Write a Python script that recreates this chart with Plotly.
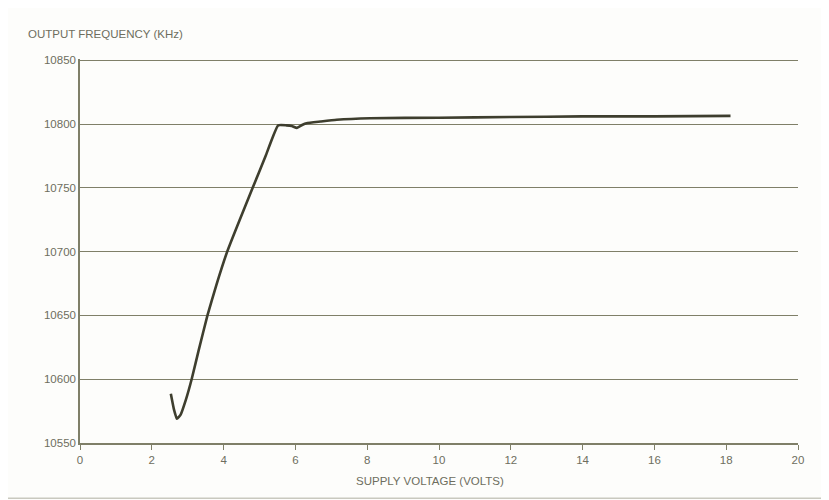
import plotly.graph_objects as go

# -------------------------
# DATA
# -------------------------
voltage = [2.53, 2.62, 2.70, 2.80, 2.95, 3.11, 3.30, 3.55, 3.80, 4.10, 4.45,
           4.81, 5.17, 5.52, 5.75, 5.90, 6.04, 6.20, 6.31, 6.70, 7.15, 8.08,
           10, 12, 14, 16, 18.12]
freq_khz = [10588.7, 10576, 10569, 10572, 10584, 10600, 10622, 10650, 10674,
            10700, 10725, 10750, 10775, 10799, 10799, 10798.5, 10797, 10799.5,
            10800.7, 10802, 10803.4, 10804.6, 10805, 10805.5, 10806, 10806,
            10806.4]

x_ticks = [0, 2, 4, 6, 8, 10, 12, 14, 16, 18, 20]
y_ticks = [10550, 10600, 10650, 10700, 10750, 10800, 10850]

# -------------------------
# STYLE
# -------------------------
text_col = "#6e6e5e"
grid_col = "#7f7f68"
line_col = "#3e3e2e"
font_name = "Liberation Sans, Arial, sans-serif"

fig = go.Figure()

fig.add_trace(go.Scatter(
    x=voltage,
    y=freq_khz,
    mode="lines",
    line=dict(color=line_col, width=2.6, shape="spline", smoothing=0.4),
    showlegend=False,
    hoverinfo="x+y",
))

# the page body adds an 8px offset, so margins are shifted to compensate
fig.update_layout(
    width=829,
    height=500,
    margin=dict(l=72, r=39, t=51, b=65),
    paper_bgcolor="#fdfdfb",
    plot_bgcolor="#fdfdfb",
    font=dict(family=font_name, size=11.5, color=text_col),
)

fig.update_xaxes(
    range=[0, 20],
    tickvals=x_ticks,
    ticks="outside",
    ticklen=5,
    tickwidth=1.2,
    tickcolor=grid_col,
    showgrid=False,
    zeroline=False,
    showline=True,
    linecolor=grid_col,
    linewidth=1.5,
    tickfont=dict(size=11.5, color=text_col),
)

fig.update_yaxes(
    range=[10550, 10851],
    tickvals=y_ticks,
    tickformat="d",
    ticks="",
    showgrid=True,
    gridcolor=grid_col,
    gridwidth=1.4,
    zeroline=False,
    showline=True,
    linecolor=grid_col,
    linewidth=1.5,
    tickfont=dict(size=11.5, color=text_col),
)

# axis titles
fig.add_annotation(
    text="OUTPUT FREQUENCY (KHz)",
    xref="paper", yref="paper",
    x=-0.075, y=1.066,
    xanchor="left", yanchor="middle",
    showarrow=False,
    font=dict(size=11.5, color=text_col),
)
fig.add_annotation(
    text="SUPPLY VOLTAGE (VOLTS)",
    xref="paper", yref="paper",
    x=0.488, y=-0.10,
    xanchor="center", yanchor="middle",
    showarrow=False,
    font=dict(size=11.5, color=text_col),
)

# page frame
fig.add_shape(
    type="rect",
    xref="paper", yref="paper",
    x0=-0.1017, x1=1.039, y0=-0.144, y1=1.147,
    line=dict(color="#c9c9bf", width=1.5),
    layer="below",
)

fig.write_html("out.html")
